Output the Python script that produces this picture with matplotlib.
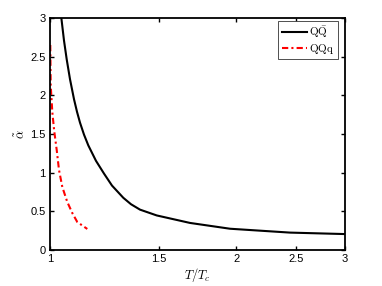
import matplotlib
matplotlib.use("Agg")
import matplotlib.pyplot as plt
from matplotlib.ticker import FixedLocator, FixedFormatter, NullLocator

plt.rcParams['font.family'] = ['Liberation Sans', 'DejaVu Sans']
plt.rcParams['mathtext.fontset'] = 'cm'

# QQbar curve
T_qqbar = [1.0418, 1.0535, 1.0642, 1.0773, 1.0935, 1.1058, 1.1182, 1.1350,
           1.1533, 1.1868, 1.2228, 1.2597, 1.3139, 1.3520, 1.3982, 1.4879,
           1.6843, 1.9549, 2.4443, 3.0]
alpha_qqbar = [3.039, 2.709, 2.465, 2.209, 1.950, 1.787, 1.647, 1.492,
               1.353, 1.153, 0.988, 0.833, 0.675, 0.592, 0.522, 0.447,
               0.350, 0.275, 0.225, 0.206]

# QQq curve
T_qqq = [1.0011, 1.0026, 1.0086, 1.0158, 1.0253, 1.0341, 1.0469, 1.0665,
         1.0866, 1.1069, 1.149]
alpha_qqq = [2.651, 2.134, 1.785, 1.539, 1.293, 1.035, 0.815, 0.621,
             0.478, 0.362, 0.272]

xticks = [1, 1.5, 2, 2.5, 3]
xticklabels = ['1', '1.5', '2', '2.5', '3']
yticks = [0, 0.5, 1, 1.5, 2, 2.5, 3]
yticklabels = ['0', '0.5', '1', '1.5', '2', '2.5', '3']

fig = plt.figure(figsize=(3.82, 2.86), dpi=100)
ax = fig.add_axes([50/382, 36/286, 295/382, 232/286])

ax.plot(T_qqbar, alpha_qqbar, color='black', lw=1.5, label=r'$\mathrm{Q\bar{Q}}$')
ax.plot(T_qqq, alpha_qqq, color='red', lw=1.5, linestyle=(0, (3, 1.5, 1, 1.5)),
        label=r'$\mathrm{QQq}$')

ax.set_xscale('log')
ax.set_xlim(1, 3)
ax.set_ylim(0, 3)
ax.xaxis.set_major_locator(FixedLocator(xticks))
ax.xaxis.set_major_formatter(FixedFormatter(xticklabels))
ax.xaxis.set_minor_locator(NullLocator())
ax.set_yticks(yticks)
ax.set_yticklabels(yticklabels)

ax.tick_params(direction='in', top=True, right=True, length=3, width=1,
               labelsize=8, pad=3)
for s in ax.spines.values():
    s.set_linewidth(1.3)

ax.set_xlabel(r'$T/T_c$', fontsize=9, labelpad=1)
ax.set_ylabel(r'$\tilde{\alpha}$', fontsize=9, labelpad=2)

leg = ax.legend(loc='upper right', fontsize=8, frameon=True, fancybox=False,
                edgecolor='#333333', framealpha=1, handlelength=2.3,
                handletextpad=0.2, borderpad=0.3, labelspacing=0.15,
                borderaxespad=0.25, bbox_to_anchor=(0.985, 1.0))
leg.get_frame().set_linewidth(0.6)

fig.savefig('out.png', dpi=100)
